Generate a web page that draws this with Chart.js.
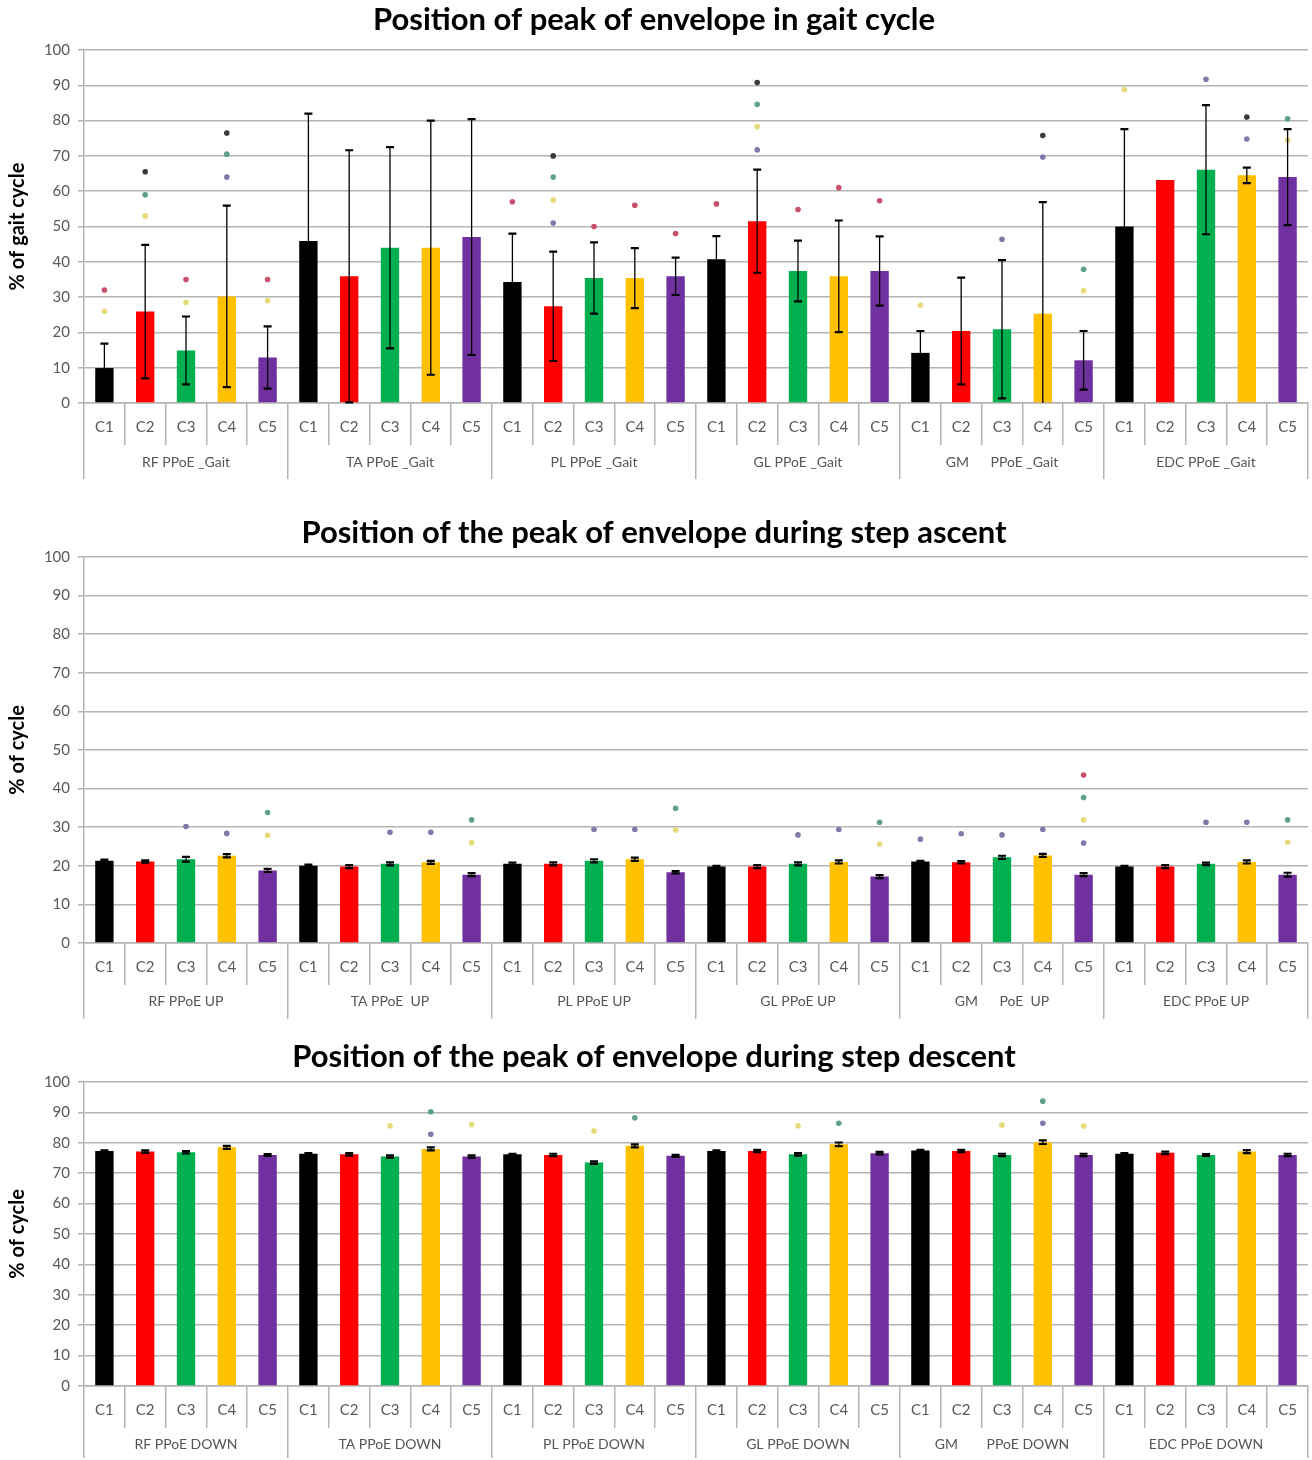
<!DOCTYPE html>
<html><head><meta charset="utf-8">
<script src="https://cdn.jsdelivr.net/npm/chart.js@4.4.0/dist/chart.umd.min.js"></script>
<style>
body{margin:0;background:#fff;width:1312px;height:1460px;overflow:hidden;position:relative;font-family:Lato,sans-serif}
.p{position:absolute;left:0;width:1312px}
</style></head><body>
<div class="p" style="top:0;height:486px"><canvas id="c1"></canvas></div>
<div class="p" style="top:500px;height:520px"><canvas id="c2"></canvas></div>
<div class="p" style="top:1030px;height:430px"><canvas id="c3"></canvas></div>
<script>
// ---------- data ----------
const conditions = ['C1','C2','C3','C4','C5'];
const gaitGroups = ['RF PPoE _Gait','TA PPoE _Gait','PL PPoE _Gait','GL PPoE _Gait','GM      PPoE _Gait','EDC PPoE _Gait'];
const upGroups   = ['RF PPoE UP','TA PPoE  UP','PL PPoE UP','GL PPoE UP','GM      PoE  UP','EDC PPoE UP'];
const downGroups = ['RF PPoE DOWN','TA PPoE DOWN','PL PPoE DOWN','GL PPoE DOWN','GM        PPoE DOWN','EDC PPoE DOWN'];
const yTickStep = 10;

const gaitMean = [9.9,25.9,14.9,30.2,12.9, 45.9,35.9,44.0,44.0,47.0, 34.3,27.4,35.4,35.4,35.9, 40.7,51.5,37.4,35.9,37.4, 14.2,20.4,20.9,25.3,12.1, 50.0,63.2,66.1,64.5,64.0];
const gaitSD   = [6.9,18.9,9.6,25.7,8.8, 36.1,35.7,28.5,36.0,33.4, 13.7,15.5,10.1,8.5,5.3, 6.6,14.6,8.6,15.8,9.8, 6.2,15.1,19.6,31.6,8.3, 27.6,0,18.3,2.2,13.6];

const upMean = [21.3,21.1,21.7,22.6,18.8, 20.0,19.8,20.5,20.9,17.7, 20.5,20.5,21.3,21.7,18.3, 19.8,19.8,20.5,21.0,17.2, 21.1,20.9,22.2,22.7,17.7, 19.8,19.8,20.5,21.0,17.7];
const upSD   = [0.3,0.3,0.6,0.4,0.4, 0.3,0.4,0.4,0.4,0.4, 0.3,0.4,0.4,0.4,0.3, 0.2,0.4,0.4,0.4,0.4, 0.2,0.3,0.4,0.4,0.4, 0.2,0.4,0.3,0.4,0.5];

const downMean = [77.3,77.1,76.9,78.5,76.0, 76.4,76.2,75.5,78.0,75.5, 76.2,76.0,73.5,79.0,75.7, 77.3,77.3,76.2,79.5,76.6, 77.5,77.3,76.0,80.2,76.0, 76.4,76.7,76.0,77.1,76.0];
const downSD   = [0.2,0.4,0.4,0.5,0.3, 0.2,0.4,0.4,0.5,0.4, 0.2,0.4,0.4,0.5,0.3, 0.2,0.4,0.4,0.6,0.4, 0.2,0.4,0.4,0.6,0.4, 0.2,0.4,0.3,0.5,0.4];

// significance markers: [category index, value, colour key]
const gaitDots = [
 [0,32,'r'],[0,26,'y'],
 [1,65.5,'k'],[1,59,'g'],[1,53,'y'],
 [2,35,'r'],[2,28.5,'y'],
 [3,76.5,'k'],[3,70.5,'g'],[3,64,'p'],
 [4,35,'r'],[4,29,'y'],
 [10,57,'r'],
 [11,70,'k'],[11,64,'g'],[11,57.5,'y'],[11,51,'p'],
 [12,50,'r'],[13,56,'r'],[14,48,'r'],
 [15,56.4,'r'],
 [16,90.8,'k'],[16,84.6,'g'],[16,78.3,'y'],[16,71.7,'p'],
 [17,54.8,'r'],[18,61,'r'],[19,57.3,'r'],
 [20,27.7,'y'],
 [22,46.4,'p'],
 [23,75.8,'k'],[23,69.7,'p'],
 [24,37.9,'g'],[24,31.8,'y'],
 [25,88.8,'y'],
 [27,91.7,'p'],
 [28,81,'k'],[28,74.8,'p'],
 [29,80.5,'g'],[29,74.4,'y']
];
const upDots = [
 [2,30.2,'p'],[3,28.4,'p'],[4,33.8,'g'],[4,27.9,'y'],
 [7,28.7,'p'],[8,28.7,'p'],[9,31.9,'g'],[9,26,'y'],
 [12,29.4,'p'],[13,29.4,'p'],[14,34.9,'g'],[14,29.3,'y'],
 [17,28,'p'],[18,29.4,'p'],[19,31.3,'g'],[19,25.6,'y'],
 [20,26.9,'p'],[21,28.3,'p'],[22,28,'p'],[23,29.4,'p'],
 [24,43.5,'r'],[24,37.7,'g'],[24,31.9,'y'],[24,25.9,'p'],
 [27,31.3,'p'],[28,31.3,'p'],[29,31.9,'g'],[29,26.1,'y']
];
const downDots = [
 [7,85.6,'y'],[8,90.2,'g'],[8,82.8,'p'],[9,86,'y'],
 [12,83.9,'y'],[13,88.2,'g'],
 [17,85.6,'y'],[18,86.4,'g'],
 [22,85.8,'y'],[23,93.7,'g'],[23,86.4,'p'],[24,85.5,'y']
];

// ---------- styling ----------
const barColors = ['#000000','#ff0000','#00b050','#ffc000','#7030a0'];
const dotColors = {k:'#3a3a3a', r:'#c9506c', g:'#5fa08c', y:'#e4da7a', p:'#8476aa'};
const gridCol = '#b4b4b4';
const FONT = 'Lato, "Open Sans", sans-serif';

const errorBars = {
  id: 'errorBars',
  afterDatasetsDraw(chart, args, opts) {
    const sd = opts.sd; if (!sd) return;
    const ctx = chart.ctx, y = chart.scales.y;
    const meta = chart.getDatasetMeta(0);
    const vals = chart.data.datasets[0].data;
    ctx.save();
    ctx.strokeStyle = '#000';
    meta.data.forEach((bar, i) => {
      const s = sd[i]; if (!s) return;
      const m = vals[i];
      const yt = y.getPixelForValue(m + s);
      const yb = y.getPixelForValue(Math.max(0, m - s));
      const x = bar.x, cw = 4;
      ctx.beginPath();
      ctx.lineWidth = 1.3;
      ctx.moveTo(x, yt); ctx.lineTo(x, yb);
      ctx.stroke();
      ctx.beginPath();
      ctx.lineWidth = 2.2;
      ctx.moveTo(x - cw, yt); ctx.lineTo(x + cw, yt);
      if (m - s > 0) { ctx.moveTo(x - cw, yb); ctx.lineTo(x + cw, yb); }
      ctx.stroke();
    });
    ctx.restore();
  }
};

function makeChart(id, cfg) {
  const labels = [];
  cfg.groups.forEach(() => conditions.forEach(c => labels.push(c)));
  const colors = labels.map((_, i) => barColors[i % 5]);
  // one marker dataset per colour, aligned to the category labels
  const dotSets = Object.keys(dotColors).map(key => {
    const arr = labels.map(() => null);
    cfg.dots.forEach(d => { if (d[2] === key) arr[d[0]] = d[1]; });
    return {type: 'line', data: arr, showLine: false, spanGaps: false,
      pointRadius: 2.8, pointHoverRadius: 2.8, pointBackgroundColor: dotColors[key],
      pointBorderWidth: 0, order: 1};
  });
  return new Chart(document.getElementById(id), {
    type: 'bar',
    data: {
      labels,
      datasets: [
        {type: 'bar', data: cfg.mean, backgroundColor: colors, barPercentage: 0.45, categoryPercentage: 1, order: 2},
        ...dotSets
      ]
    },
    options: {
      responsive: true, maintainAspectRatio: false, animation: false,
      layout: {padding: {left: 0, right: 4, top: 0, bottom: cfg.padBottom}},
      plugins: {
        legend: {display: false}, tooltip: {enabled: false},
        title: {display: true, text: cfg.title, color: '#000',
          font: {family: FONT, size: 31, weight: 'bold'},
          padding: {top: cfg.titleTop, bottom: cfg.titleBottom}},
        errorBars: {sd: cfg.sd}
      },
      scales: {
        x: {
          type: 'category', offset: true,
          grid: {offset: true, drawOnChartArea: false, tickLength: 42, color: gridCol, lineWidth: 1.5},
          border: {display: true, color: gridCol, width: 1.5},
          ticks: {color: '#595959', font: {family: FONT, size: 15}, padding: -27, maxRotation: 0, autoSkip: false},
          afterFit: s => { s.height = 42; }
        },
        x2: {
          type: 'category', position: 'bottom', labels: cfg.groups, offset: true,
          grid: {offset: true, drawOnChartArea: false, tickLength: cfg.groupH, color: gridCol, lineWidth: 1.5},
          border: {display: false},
          ticks: {color: '#555555', font: {family: FONT, size: 14}, padding: cfg.groupPad, maxRotation: 0, autoSkip: false},
          afterFit: s => { s.height = cfg.groupH; }
        },
        y: {
          min: 0, max: 100,
          ticks: {stepSize: yTickStep, color: '#595959', font: {family: FONT, size: 15}, padding: 8},
          grid: {color: gridCol, lineWidth: 1.5, tickLength: 6},
          border: {display: true, color: gridCol, width: 1.5},
          title: {display: true, text: cfg.yTitle, color: '#000', font: {family: FONT, size: 20, weight: 'bold'}, padding: {top: 6, bottom: 0}},
          afterFit: s => { s.width = 84; }
        }
      }
    },
    plugins: [errorBars]
  });
}

makeChart('c1', {title: 'Position of peak of envelope in gait cycle', yTitle: '% of gait cycle',
  groups: gaitGroups, mean: gaitMean, sd: gaitSD, dots: gaitDots,
  titleTop: 1.4, titleBottom: 11.4, padBottom: 7, groupH: 34, groupPad: -25});
makeChart('c2', {title: 'Position of the peak of envelope during step ascent', yTitle: '% of cycle',
  groups: upGroups, mean: upMean, sd: upSD, dots: upDots,
  titleTop: 14.4, titleBottom: 5.4, padBottom: 1, groupH: 34, groupPad: -26});
makeChart('c3', {title: 'Position of the peak of envelope during step descent', yTitle: '% of cycle',
  groups: downGroups, mean: downMean, sd: downSD, dots: downDots,
  titleTop: 8.4, titleBottom: 6.4, padBottom: 2, groupH: 30, groupPad: -22});
</script>
</body></html>
